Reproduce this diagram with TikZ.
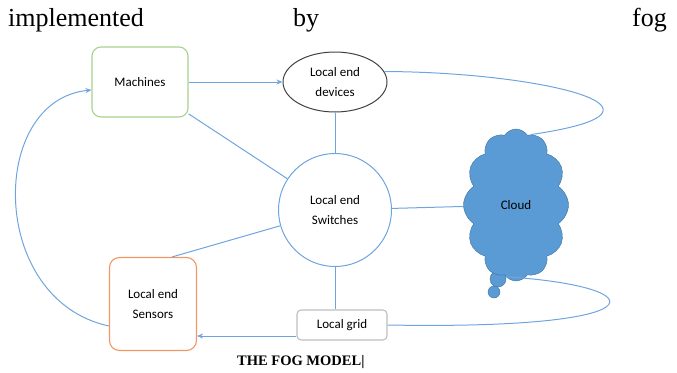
\documentclass[tikz,border=0pt]{standalone}
\usepackage{fontspec}
\setmainfont{Carlito}
\newfontfamily\timesfont{Liberation Serif}
\usetikzlibrary{arrows.meta,positioning,shapes.geometric,shapes.symbols}
\definecolor{linkblue}{RGB}{110,165,222}
\definecolor{cloudblue}{RGB}{91,155,213}
\definecolor{cloudedge}{RGB}{65,113,156}
\definecolor{machgreen}{RGB}{169,209,142}
\definecolor{sensorange}{RGB}{244,150,100}
\definecolor{gridgray}{RGB}{191,191,191}
\definecolor{devgray}{RGB}{64,64,64}

\begin{document}
\begin{tikzpicture}[
  x=1pt, y=-1pt,
  >={Stealth[length=6pt,width=5pt]},
  every node/.style={font=\fontsize{13}{19.5}\selectfont,align=center},
  unit/.style={draw,rounded corners=9pt,line width=1.1pt,inner sep=0pt},
  link/.style={draw=linkblue,line width=1pt},
  arrow/.style={link,->},
  bodytext/.style={font=\timesfont\fontsize{26}{30}\selectfont,inner sep=0pt}
]
  \useasboundingbox (0,0) rectangle (677,372);
  % running text above the figure
  \node[bodytext,anchor=base west] (word1) at (8,27) {implemented};
  \node[bodytext,anchor=base west] (word2) at (293,27) {by};
  \node[bodytext,anchor=base east] (word3) at (667,27) {fog};
  % the fog model
  \fill[cloudblue,draw=cloudedge] (498,279) circle (8pt);
  \fill[cloudblue,draw=cloudedge] (494,292) circle (6pt);
  \node[unit,draw=machgreen,minimum width=96pt,minimum height=70pt] (machines) at (140,82) {Machines};
  \node[ellipse,draw=devgray,line width=1pt,inner sep=0pt,minimum width=104pt,minimum height=60pt] (devices) at (335,82) {Local end\\devices};
  \node[circle,draw=linkblue,line width=1pt,minimum size=113pt] (switches) at (335,210) {Local end\\Switches};
  \node[cloud,cloud puffs=12,cloud puff arc=115,cloud ignores aspect,draw=cloudedge,fill=cloudblue,minimum width=105pt,minimum height=152pt] (cloud) at (516,205) {Cloud};
  \node[unit,draw=sensorange,rounded corners=10pt,minimum width=87pt,minimum height=93pt] (sensors) at (153,304) {Local end\\Sensors};
  \node[unit,draw=gridgray,rounded corners=4pt,minimum width=90pt,minimum height=30pt] (grid) at (342,325) {Local grid};
  \node[font=\timesfont\bfseries\fontsize{14.5}{17}\selectfont,anchor=base west,inner sep=0pt] (caption) at (237,365) {THE FOG MODEL|};
  \draw[arrow] (machines) -- (devices);
  \draw[link] (machines) -- (switches);
  \draw[link] (devices) -- (switches);
  \draw[link] (switches) -- (cloud);
  \draw[link] (switches) -- (sensors.68);
  \draw[link] (switches.south) -- (switches.south |- grid.north);
  \draw[arrow] ([yshift=-11pt]grid.west) -- ([yshift=-11pt]grid.west -| sensors.east);
  \draw[arrow] ([yshift=-22pt]sensors.west) .. controls (-12,300) and (-12,100) .. ([yshift=-8pt]machines.west);
  \draw[link] (devices.12) .. controls (540,72) and (700,110) .. (cloud.78);
  \draw[link] (cloud.262) .. controls (660,287) and (660,330) .. (grid.east);
\end{tikzpicture}
\end{document}
